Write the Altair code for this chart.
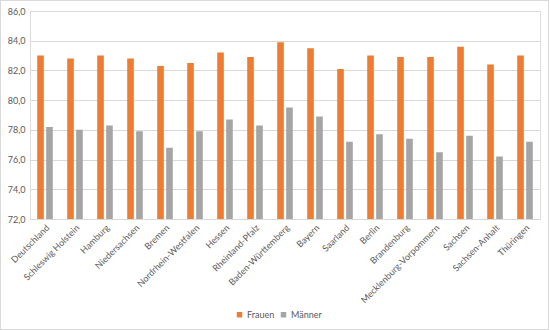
import altair as alt
import pandas as pd

laender = ["Deutschland", "Schleswig Holstein", "Hamburg", "Niedersachsen", "Bremen",
           "Nordrhein-Westfalen", "Hessen", "Rheinland-Pfalz", "Baden-Württemberg",
           "Bayern", "Saarland", "Berlin", "Brandenburg", "Mecklenburg-Vorpommern",
           "Sachsen", "Sachsen-Anhalt", "Thüringen"]
frauen = [83.0, 82.8, 83.0, 82.8, 82.3, 82.5, 83.2, 82.9, 83.9, 83.5, 82.1, 83.0, 82.9, 82.9, 83.6, 82.4, 83.0]
maenner = [78.2, 78.0, 78.3, 77.9, 76.8, 77.9, 78.7, 78.3, 79.5, 78.9, 77.2, 77.7, 77.4, 76.5, 77.6, 76.2, 77.2]
serien = ["Frauen", "Männer"]
farben = ["#ED7D31", "#A5A5A5"]

rows = []
for i, land in enumerate(laender):
    rows.append({"Land": land, "Serie": serien[0], "Wert": frauen[i]})
    rows.append({"Land": land, "Serie": serien[1], "Wert": maenner[i]})
df = pd.DataFrame(rows)

FONT = "Lato"
TXT = "#595959"

bars = alt.Chart(df).mark_bar(clip=True).encode(
    x=alt.X("Land:N", sort=laender, title=None,
            scale=alt.Scale(paddingInner=0.48, paddingOuter=0.24),
            axis=alt.Axis(labelAngle=-45, labelFontSize=9, labelColor=TXT, labelFont=FONT,
                          ticks=False, domainColor="#D9D9D9", labelPadding=4,
                          labelAlign="right", labelBaseline="top")),
    xOffset=alt.XOffset("Serie:N", sort=serien, scale=alt.Scale(paddingInner=0.26, paddingOuter=0)),
    y=alt.Y("Wert:Q", title=None,
            scale=alt.Scale(domain=[72, 86], zero=False, nice=False),
            axis=alt.Axis(values=[72, 74, 76, 78, 80, 82, 84, 86], domain=False, ticks=False,
                          gridColor="#D9D9D9", labelFontSize=9, labelColor=TXT, labelFont=FONT,
                          labelPadding=5,
                          labelExpr="replace(format(datum.value, '.1f'), '.', ',')")),
    color=alt.Color("Serie:N", sort=serien, scale=alt.Scale(domain=serien, range=farben),
                    legend=alt.Legend(title=None, orient="none", direction="horizontal",
                                      legendX=205, legendY=299, symbolType="square",
                                      symbolSize=30, symbolStrokeWidth=0, labelFontSize=9,
                                      labelColor=TXT, labelFont=FONT, columnPadding=4,
                                      labelOffset=3)),
)

border = alt.Chart(df).mark_rect(fill=None, stroke="#D9D9D9", strokeWidth=1).encode(
    x=alt.value(-29.5), x2=alt.value(518.5), y=alt.value(-10.5), y2=alt.value(318.5)
)

chart = alt.layer(border, bars).properties(
    width=510, height=208,
    autosize=alt.AutoSizeParams(type="none"),
    padding={"left": 30, "top": 11, "right": 10, "bottom": 111},
).configure_view(stroke=None).configure(background="white")

chart.save("out.html", embed_options={"renderer": "svg", "actions": False})
